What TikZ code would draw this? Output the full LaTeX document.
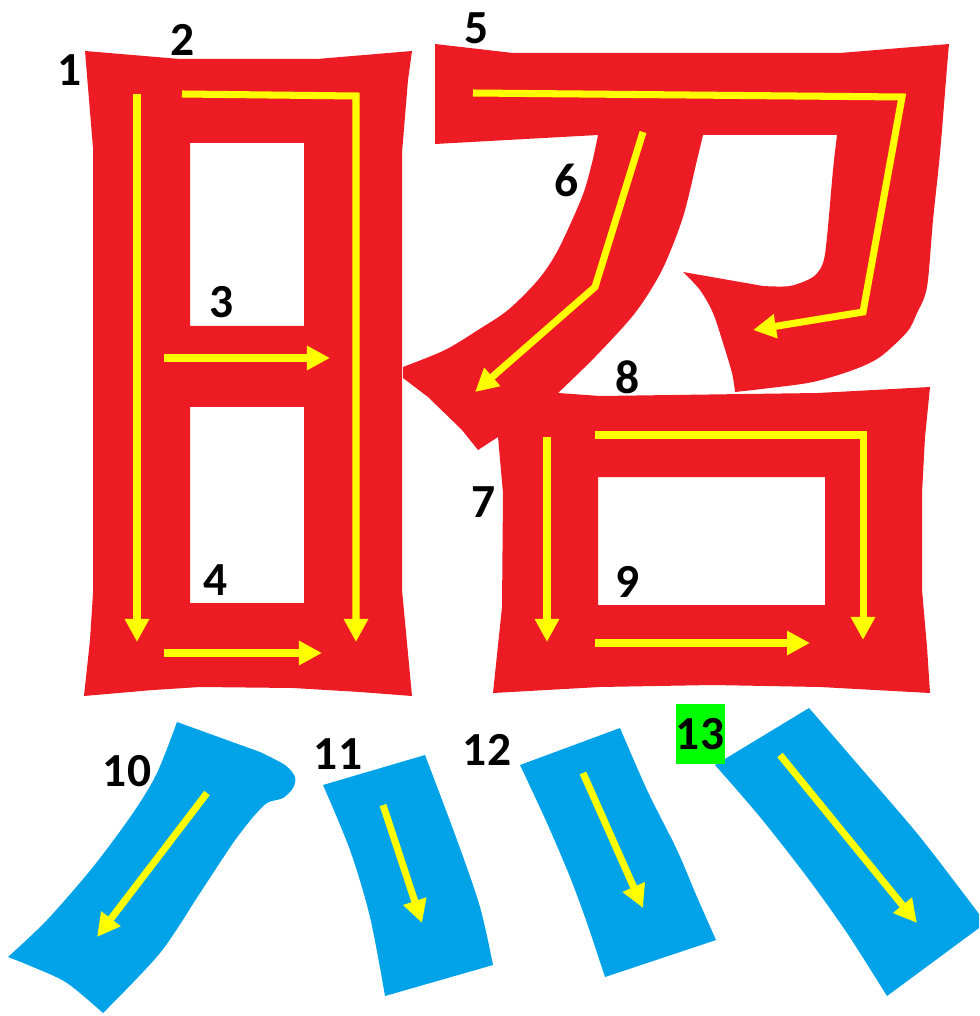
\documentclass[tikz,border=0pt]{standalone}
\usepackage{fontspec}
\setmainfont{Carlito}
\usetikzlibrary{arrows.meta}

\definecolor{strokered}{HTML}{ED1C24}
\definecolor{strokeblue}{HTML}{00A2E8}
\definecolor{guideyellow}{HTML}{FFFF00}
\definecolor{markgreen}{HTML}{00FF00}

\begin{document}
\begin{tikzpicture}[x=0.01cm, y=-0.01cm,
    guide/.style={draw=guideyellow, line width=2pt, -{Triangle[length=0.23cm, width=0.23cm]}},
    num/.style={font=\fontsize{13.5}{16}\selectfont\bfseries, inner sep=0pt}]
    \useasboundingbox (0,0) rectangle (979,1016);

    \fill[strokered, even odd rule] (85,51) -- (180,59) -- (317,59) -- (412,51) -- (408,80) -- (402,153) -- (402,590) -- (407,643) -- (412,696)
        -- (360,692) -- (293,688) -- (200,687) -- (153,690) -- (84,696) -- (90,640) -- (93,593) -- (93,148) -- cycle
        (190,143) rectangle (304,326) (190,407) rectangle (304,603);
    \fill[strokered] (435,44) -- (513,53) -- (840,53) -- (949,44)
        -- plot[smooth] coordinates {(949,44) (947,67) (940,153) (933,220) (927,287) (917,313) (907,332) (880,357) (853,370) (813,382) (770,388) (735,392)}
        -- plot[smooth] coordinates {(735,392) (732,373) (723,343) (713,313) (700,290) (683,272)}
        -- plot[smooth] coordinates {(763,286) (790,286) (813,277) (823,263) (827,237) (833,170) (837,135)}
        -- (598,135) -- (435,144) -- cycle;
    \fill[strokered] (598,135) -- (703,135)
        -- plot[smooth] coordinates {(703,135) (697,160) (683,217) (662,270) (635,313) (595,357) (558,393)}
        -- (520,425) -- (498,437) -- (478,450) -- (462,430) -- (428,397) -- (403,378) -- (403,367)
        -- plot[smooth] coordinates {(403,367) (445,350) (478,330) (508,310) (538,280) (558,250) (582,197) (592,163) (598,135)} -- cycle;
    \fill[strokered, even odd rule] (500,400) -- (558,393) -- (600,396) -- (818,393) -- (930,387) -- (925,437) -- (922,493) -- (922,590) -- (927,647) -- (930,693)
        -- (820,687) -- (713,685) -- (600,687) -- (493,693) -- (502,607) -- (503,493) -- (498,437) -- cycle
        (598,477) rectangle (825,605);

    % dots
    \fill[strokeblue] (177,722) -- (260,752)
        -- plot[smooth] coordinates {(260,752) (285,765) (295,777) (293,788) (283,798) (267,803) (253,817)}
        -- plot[smooth] coordinates {(253,817) (233,843) (200,893) (160,953) (103,1013)}
        -- plot[smooth] coordinates {(103,1013) (67,983) (33,967) (8,957)}
        -- plot[smooth] coordinates {(8,957) (47,920) (93,867) (133,813) (157,773) (177,722)} -- cycle;
    \fill[strokeblue] (323,785) -- (425,755) -- plot[smooth] coordinates {(425,755) (457,840) (480,907) (493,965)}
        -- (385,996) -- plot[smooth] coordinates {(385,996) (370,917) (350,850) (323,785)} -- cycle;
    \fill[strokeblue] (520,765) -- (620,728) -- plot[smooth] coordinates {(620,728) (647,790) (677,850) (697,897) (716,940)}
        -- (605,977) -- plot[smooth] coordinates {(605,977) (587,923) (570,877) (547,823) (520,765)} -- cycle;
    \fill[strokeblue] (715,765) -- (809,708) -- plot[smooth] coordinates {(809,708) (860,767) (920,837) (979,914)}
        -- (979,928) -- (887,996) -- plot[smooth] coordinates {(887,996) (847,933) (807,877) (760,817) (715,765)} -- cycle;

    \draw[guide] (137,94) -- (137,642);
    \draw[guide] (182,94) -- (356,96) -- (356,642);
    \draw[guide] (164,358) -- (330,358);
    \draw[guide] (164,653) -- (322,653);
    \draw[guide] (473,93) -- (902,97) -- (863,312) -- (753,330);
    \draw[guide] (643,132) -- (595,287) -- (475,392);
    \draw[guide] (547,437) -- (547,642);
    \draw[guide] (595,435) -- (863,435) -- (863,640);
    \draw[guide] (595,643) -- (810,643);
    \draw[guide] (207,793) -- (97,937);
    \draw[guide] (383,805) -- (422,923);
    \draw[guide] (583,773) -- (643,908);
    \draw[guide] (780,755) -- (917,923);

    \node[num] (n1) at (70,70) {1};
    \node[num] (n2) at (183,40) {2};
    \node[num] (n3) at (222,302) {3};
    \node[num] (n4) at (216,580) {4};
    \node[num] (n5) at (477,28) {5};
    \node[num] (n6) at (567,180) {6};
    \node[num] (n7) at (484,502) {7};
    \node[num] (n8) at (628,377) {8};
    \node[num] (n9) at (628,582) {9};
    \node[num] (n10) at (127,771) {10};
    \node[num] (n11) at (338,754) {11};
    \node[num] (n12) at (487,750) {12};
    \node[num, fill=markgreen, minimum width=0.49cm, minimum height=0.59cm] (n13) at (700,734) {13};
\end{tikzpicture}
\end{document}
